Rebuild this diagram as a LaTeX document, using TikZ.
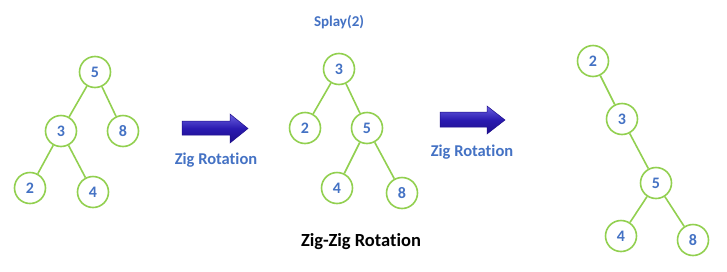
\documentclass[tikz,border=0pt]{standalone}
\usepackage{fontspec}
\setmainfont[RawFeature=-liga]{Carlito}
\begin{document}
\begin{tikzpicture}[x=1pt,y=-1pt,
  tnode/.style={circle,draw=lgreen,line width=1.6pt,minimum size=31pt,inner sep=0pt,
    font=\fontsize{16}{16}\selectfont\bfseries,text=kblue,fill=white},
  tedge/.style={draw=lgreen,line width=1.6pt},
  lbl/.style={font=\fontsize{16.5}{18}\selectfont\bfseries,text=kblue},
  bigarrow/.style={draw=adark,line width=0.5pt,top color=alight,bottom color=adark,middle color=amid}]
\definecolor{lgreen}{HTML}{92D050}
\definecolor{kblue}{HTML}{4472C4}
\definecolor{adark}{HTML}{1E0E8C}
\definecolor{amid}{HTML}{2A1AB0}
\definecolor{alight}{HTML}{6A60E0}
\useasboundingbox (0,0) rectangle (727,271);
\fill[white] (0,0) rectangle (727,271);

% first tree
\node[tnode] (a5) at (95,72) {5};
\node[tnode] (a3) at (61,131) {3};
\node[tnode] (a8) at (123,131) {8};
\node[tnode] (a2) at (30,188) {2};
\node[tnode] (a4) at (93,192) {4};
\draw[tedge] (a5) -- (a3);
\draw[tedge] (a5) -- (a8);
\draw[tedge] (a3) -- (a2);
\draw[tedge] (a3) -- (a4);

% second tree
\node[font=\fontsize{15}{17}\selectfont\bfseries,text=kblue] (splay) at (339,22) {Splay(2)};
\node[tnode] (b3) at (339,69) {3};
\node[tnode] (b2) at (305,128) {2};
\node[tnode] (b5) at (367,128) {5};
\node[tnode] (b4) at (337,188) {4};
\node[tnode] (b8) at (402,193) {8};
\draw[tedge] (b3) -- (b2);
\draw[tedge] (b3) -- (b5);
\draw[tedge] (b5) -- (b4);
\draw[tedge] (b5) -- (b8);

% third tree
\node[tnode] (c2) at (593,61) {2};
\node[tnode] (c3) at (622,119) {3};
\node[tnode] (c5) at (656,183) {5};
\node[tnode] (c4) at (621,236) {4};
\node[tnode] (c8) at (693,240) {8};
\draw[tedge] (c2) -- (c3);
\draw[tedge] (c3) -- (c5);
\draw[tedge] (c5) -- (c4);
\draw[tedge] (c5) -- (c8);

% block arrows
\path[bigarrow] (182,121) -- (230,121) -- (230,114) -- (248,128.5) -- (230,143) -- (230,135) -- (182,135) -- cycle;
\path[bigarrow] (440,112) -- (487,112) -- (487,106) -- (505,120) -- (487,134) -- (487,127) -- (440,127) -- cycle;

\node[lbl] (r1) at (216,160) {Zig Rotation};
\node[lbl] (r2) at (472,152) {Zig Rotation};
\node[font=\fontsize{18.5}{20}\selectfont\bfseries,text=black] (zz) at (361,242) {Zig-Zig Rotation};
\end{tikzpicture}
\end{document}
